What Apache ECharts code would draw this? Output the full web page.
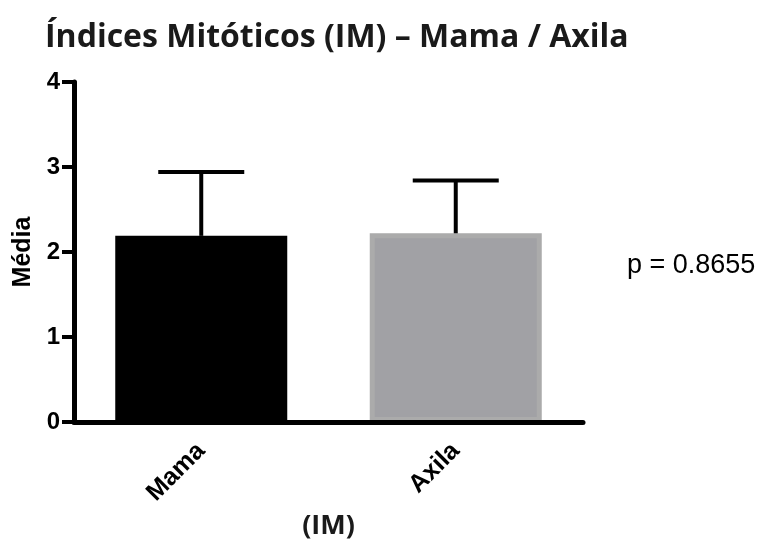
<!DOCTYPE html>
<html>
<head>
<meta charset="utf-8">
<script src="https://cdn.jsdelivr.net/npm/echarts@6/dist/echarts.min.js"></script>
<style>
  html, body { margin: 0; padding: 0; background: #fff; }
  #chart { width: 764px; height: 539px; }
</style>
</head>
<body>
<div id="chart"></div>
<script>
// Mitotic index means per site, with the upper end of each error bar
const categories = ['Mama', 'Axila'];
const means = [2.19, 2.22];
const errorTops = [2.94, 2.84];
const yTicks = [0, 1, 2, 3, 4];
const pValueText = 'p = 0.8655';

const chart = echarts.init(document.getElementById('chart'));

const barStyles = [
  { color: '#000000', borderColor: '#000000', borderWidth: 0 },
  { color: '#a1a1a5', borderColor: '#ababab', borderWidth: 5 }
];

chart.setOption({
  animation: false,
  title: {
    text: 'Índices Mitóticos (IM) – Mama / Axila',
    left: 40,
    top: 17,
    textStyle: { fontFamily: 'Open Sans', fontWeight: 'bold', fontSize: 32, color: '#1a1a1a' }
  },
  grid: {
    left: 74, right: 181, top: 82, bottom: 117,
    containLabel: false,
    outerBoundsMode: 'none'
  },
  xAxis: {
    type: 'category',
    data: categories,
    z: 5,
    name: '(IM)',
    nameLocation: 'middle',
    nameGap: 85,
    nameTextStyle: { fontFamily: 'Open Sans', fontWeight: 'bold', fontSize: 27, color: '#1a1a1a' },
    axisLine: { lineStyle: { color: '#000', width: 5 } },
    axisTick: { alignWithLabel: true, length: 11, lineStyle: { color: '#000', width: 5 } },
    axisLabel: {
      rotate: 45, margin: 25,
      fontFamily: 'Liberation Sans', fontWeight: 'bold', fontSize: 25, color: '#000'
    }
  },
  yAxis: {
    type: 'value',
    min: yTicks[0],
    max: yTicks[yTicks.length - 1],
    interval: 1,
    name: 'Média',
    nameLocation: 'middle',
    nameGap: 37,
    nameTextStyle: { fontFamily: 'Liberation Sans', fontWeight: 'bold', fontSize: 25, color: '#000' },
    axisLine: { show: true, lineStyle: { color: '#000', width: 5 } },
    axisTick: { show: true, length: 12, lineStyle: { color: '#000', width: 4 } },
    splitLine: { show: false },
    axisLabel: {
      margin: 14,
      fontFamily: 'Liberation Sans', fontWeight: 'bold', fontSize: 24, color: '#000'
    }
  },
  graphic: [{
    type: 'text',
    left: 627,
    top: 252,
    style: { text: pValueText, fontFamily: 'Liberation Sans', fontSize: 27, fill: '#000' }
  }],
  series: [
    {
      type: 'bar',
      barWidth: 172,
      data: means.map((v, i) => ({ value: v, itemStyle: barStyles[i] })),
      z: 2
    },
    {
      type: 'custom',
      z: 3,
      data: means.map((v, i) => [i, v, errorTops[i]]),
      renderItem: function (params, api) {
        const base = api.coord([api.value(0), api.value(1)]);
        const top = api.coord([api.value(0), api.value(2)]);
        const half = 43;
        return {
          type: 'group',
          children: [
            { type: 'line', shape: { x1: base[0], y1: base[1], x2: top[0], y2: top[1] },
              style: { stroke: '#000', lineWidth: 4 } },
            { type: 'line', shape: { x1: top[0] - half, y1: top[1], x2: top[0] + half, y2: top[1] },
              style: { stroke: '#000', lineWidth: 4 } }
          ]
        };
      }
    }
  ]
});
</script>
</body>
</html>
